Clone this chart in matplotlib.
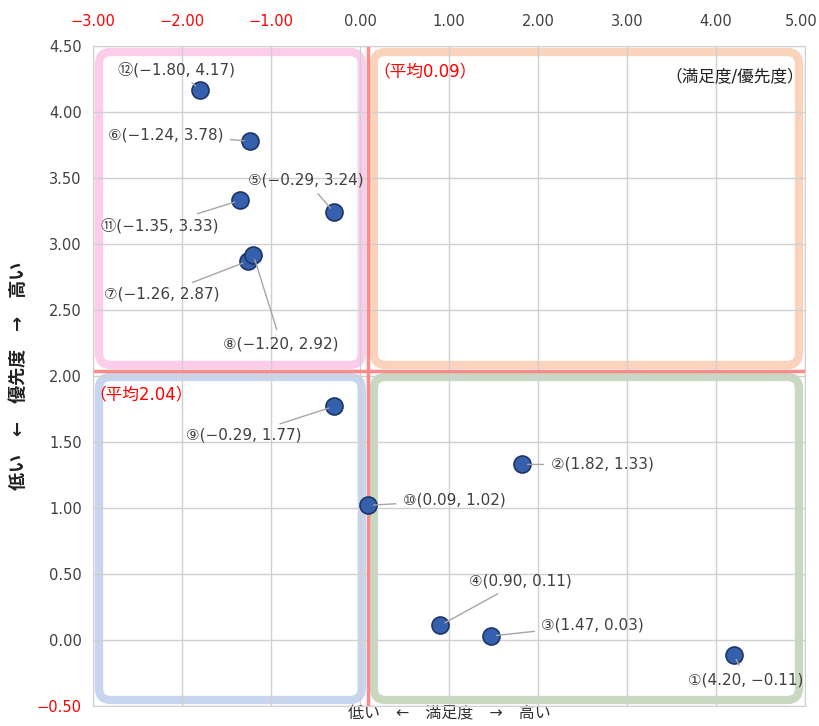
import numpy as np
import matplotlib.pyplot as plt
from matplotlib.patches import FancyBboxPatch
from matplotlib.transforms import IdentityTransform

plt.rcParams['font.family'] = ['DejaVu Sans', 'Noto Sans CJK JP']

# satisfaction (x) / priority (y)
nums = ['①', '②', '③', '④', '⑤', '⑥', '⑦', '⑧', '⑨', '⑩', '⑪', '⑫']
sat = [4.20, 1.82, 1.47, 0.90, -0.29, -1.24, -1.26, -1.20, -0.29, 0.09, -1.35, -1.80]
pri = [-0.11, 1.33, 0.03, 0.11, 3.24, 3.78, 2.87, 2.92, 1.77, 1.02, 3.33, 4.17]

xticks = [-3, -2, -1, 0, 1, 2, 3, 4, 5]
yticks = [-0.5, 0, 0.5, 1, 1.5, 2, 2.5, 3, 3.5, 4, 4.5]

# label offsets in pixels (label centre relative to point)
offs = [(12, -25), (80, 0), (102, 11), (80, 44), (-28, 32), (-84, 6),
        (-86, -33), (28, -89), (-90, -29), (86, 5), (-80, -25), (-23, 20)]

xm = np.mean(sat)
ym = np.mean(pri)

fig = plt.figure(figsize=(8.19, 7.26), dpi=100)
ax = fig.add_axes([93/819, 1-706/726, (805-93)/819, (706-46)/726])
ax.set_xlim(-3, 5)
ax.set_ylim(-0.5, 4.5)

def fmt(v):
    return f'{v:.2f}'.replace('-', '−')

ax.xaxis.tick_top()
ax.set_xticks(xticks)
# last label drawn separately so it stays inside the figure
ax.set_xticklabels([fmt(v) for v in xticks[:-1]] + [''])
for t, v in zip(ax.get_xticklabels(), xticks):
    t.set_color('#ff0000' if v < 0 else '#404040')
ax.set_yticks(yticks)
ax.set_yticklabels([fmt(v) for v in yticks])
for t, v in zip(ax.get_yticklabels(), yticks):
    t.set_color('#ff0000' if v < 0 else '#404040')
ax.tick_params(axis='y', length=0, labelsize=10.5, pad=8)
ax.tick_params(axis='x', length=0, labelsize=10.5, pad=12)
ax.grid(True, color='#d0d0d0', lw=1)
for s in ax.spines.values():
    s.set_color('#d0d0d0')

fig.text(0.998, 1 - 21/726, fmt(xticks[-1]), color='#404040', fontsize=10.5,
         ha='right', va='center')

# quadrant boxes (pixel coordinates)
def box(x0, y0, x1, y1, col):
    p0 = ax.transData.transform((x0, y0))
    p1 = ax.transData.transform((x1, y1))
    lx, rx = min(p0[0], p1[0]), max(p0[0], p1[0])
    by, ty = min(p0[1], p1[1]), max(p0[1], p1[1])
    ins = 6
    r = 12
    patch = FancyBboxPatch((lx+ins+r, by+ins+r), rx-lx-2*ins-2*r, ty-by-2*ins-2*r,
                           boxstyle=f'round,pad={r},rounding_size={r}',
                           transform=IdentityTransform(), fc='none', ec=col,
                           lw=6, zorder=1, clip_on=False)
    ax.add_artist(patch)

box(-3, ym, xm, 4.5, '#fbcdeb')
box(xm, ym, 5, 4.5, '#f9d3bb')
box(-3, -0.5, xm, ym, '#c8d5ee')
box(xm, -0.5, 5, ym, '#c9d8c0')

ax.axvline(xm, color='#ff8a8a', lw=2.5, zorder=2)
ax.axhline(ym, color='#ff8a8a', lw=2.5, zorder=2)

ax.scatter(sat, pri, s=150, color='#3560ad', edgecolors='#1d3566', lw=1.2, zorder=5)

for n, x, y, (dx, dy) in zip(nums, sat, pri, offs):
    ax.annotate(f'{n}({fmt(x)}, {fmt(y)})', (x, y), xytext=(dx, dy),
                textcoords='offset pixels', ha='center', va='center',
                fontsize=11, color='#404040', zorder=6,
                arrowprops=dict(arrowstyle='-', color='#a6a6a6', lw=1,
                                shrinkA=3, shrinkB=4))

ax.text(0.008 + (xm + 3) / 8, 0.975, f'（平均{xm:.2f}）', transform=ax.transAxes,
        color='#ff0000', fontsize=12, ha='left', va='top')
ax.text(-0.005, (ym + 0.5) / 5 - 0.022, f'（平均{ym:.2f}）', transform=ax.transAxes,
        color='#ff0000', fontsize=12, ha='left', va='top')
ax.text(0.998, 0.967, '（満足度/優先度）', transform=ax.transAxes,
        color='#202020', fontsize=12, ha='right', va='top')

ax.xaxis.set_label_position('bottom')
ax.set_xlabel('低い　←　満足度　→　高い', fontsize=11.5, color='#303030', labelpad=0)
ax.set_ylabel('低い　←　優先度　→　高い', fontsize=13, fontweight='bold',
              color='#202020')
ax.yaxis.set_label_coords(-0.092, 0.5)

fig.savefig('out.png', dpi=100)
